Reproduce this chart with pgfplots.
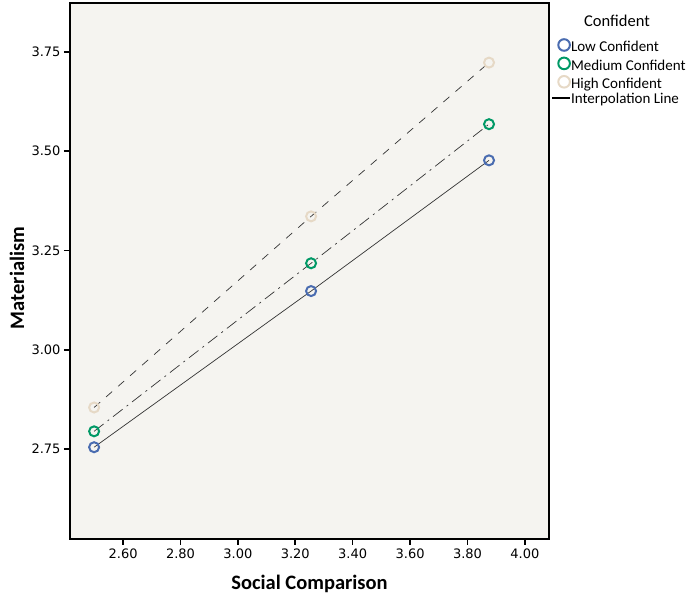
\documentclass[border=0pt]{standalone}
\usepackage{pgfplots}
\pgfplotsset{compat=1.18}
\usepackage{fontspec}
\setmainfont{Carlito}
\newfontfamily\tickfont{DejaVu Sans}
\definecolor{bgc}{HTML}{F5F4F0}
\definecolor{lowc}{HTML}{4A6CB0}
\definecolor{medc}{HTML}{009966}
\definecolor{highc}{HTML}{E6D9C6}
\definecolor{linec}{HTML}{333333}
\begin{document}
\begin{tikzpicture}[x=1pt,y=1pt]
\useasboundingbox (0,0) rectangle (693,597);
\begin{axis}[
  at={(70pt,58pt)}, anchor=south west,
  scale only axis, width=479pt, height=536pt,
  xmin=2.415, xmax=4.084, ymin=2.524, ymax=3.873,
  axis background/.style={fill=bgc},
  axis line style={black, line width=1.6pt},
  xtick={2.6,2.8,3.0,3.2,3.4,3.6,3.8,4.0},
  ytick={2.75,3.00,3.25,3.50,3.75},
  xtick pos=lower, ytick pos=left,
  tick align=outside,
  major tick length=6pt,
  tick style={black, line width=1.6pt},
  xticklabel style={font=\tickfont\fontsize{13}{14}\selectfont, /pgf/number format/.cd, fixed, fixed zerofill, precision=2},
  yticklabel style={font=\tickfont\fontsize{13}{14}\selectfont, /pgf/number format/.cd, fixed, fixed zerofill, precision=2},
  /pgf/number format/assume math mode=true,
  xlabel={\bfseries Social Comparison},
  xlabel style={font=\fontsize{20.5}{22}\selectfont, at={(axis description cs:0.5,0)}, anchor=base, yshift=-50pt},
  clip=false,
  legend style={at={(axis description cs:1,1)}, anchor=north west, xshift=2pt, yshift=-35pt,
    draw=none, fill=none, font=\fontsize{15}{16}\selectfont, row sep=1.6pt, inner sep=0pt,
    nodes={inner sep=0pt, text height=10pt, text depth=3pt}},
  legend cell align=left,
]
\addplot[linec, line width=0.7pt, forget plot] coordinates {(2.499,2.755) (3.255,3.148) (3.875,3.477)};
\addplot[linec, line width=0.7pt, dash pattern=on 12pt off 5pt on 2pt off 5pt, forget plot] coordinates {(2.499,2.795) (3.255,3.218) (3.875,3.568)};
\addplot[linec, line width=0.7pt, dash pattern=on 8pt off 8pt, forget plot] coordinates {(2.499,2.855) (3.255,3.336) (3.875,3.723)};
\addplot[only marks, mark=o, mark size=5pt, mark options={lowc, line width=2pt},
  legend image code/.code={\draw[lowc, line width=2pt] (11pt,3.5pt) circle (5.8pt);}] coordinates {(2.499,2.755) (3.255,3.148) (3.875,3.477)};
\addlegendentry{Low Confident}
\addplot[only marks, mark=o, mark size=5pt, mark options={medc, line width=2pt},
  legend image code/.code={\draw[medc, line width=2pt] (11pt,3.5pt) circle (5.8pt);}] coordinates {(2.499,2.795) (3.255,3.218) (3.875,3.568)};
\addlegendentry{Medium Confident}
\addplot[only marks, mark=o, mark size=5pt, mark options={highc, line width=2pt},
  legend image code/.code={\draw[highc, line width=2pt] (11pt,3.5pt) circle (5.8pt);}] coordinates {(2.499,2.855) (3.255,3.336) (3.875,3.723)};
\addlegendentry{High Confident}
\addlegendimage{legend image code/.code={\draw[black, line width=1.8pt] (-1pt,1.5pt) -- (17pt,1.5pt);}}
\addlegendentry{Interpolation Line}
\end{axis}
\node[font=\fontsize{16.5}{18}\selectfont, anchor=base] at (617,570) {Confident};
\node[font=\fontsize{20.5}{22}\selectfont\bfseries, rotate=90, anchor=base] at (24,319) {Materialism};
\end{tikzpicture}
\end{document}
